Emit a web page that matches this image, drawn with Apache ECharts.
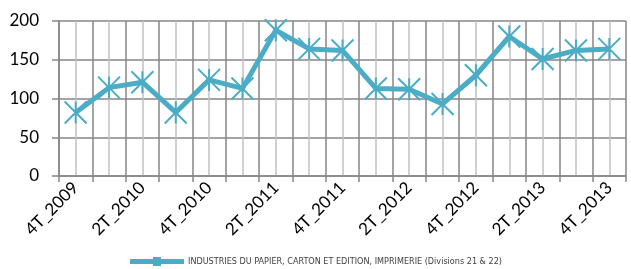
<!DOCTYPE html>
<html>
<head>
<meta charset="utf-8">
<script src="https://cdn.jsdelivr.net/npm/echarts@6/dist/echarts.min.js"></script>
<style>
  html, body { margin: 0; padding: 0; background: #fff; }
  #chart { width: 631px; height: 269px; }
</style>
</head>
<body>
<div id="chart"></div>
<script>
// trimestres
var quarters = ["4T_2009", "1T_2010", "2T_2010", "3T_2010", "4T_2010", "1T_2011", "2T_2011", "3T_2011",
    "4T_2011", "1T_2012", "2T_2012", "3T_2012", "4T_2012", "1T_2013", "2T_2013", "3T_2013", "4T_2013"];
// indice
var values = [82, 114, 121, 82, 124, 113, 188, 164, 162, 113, 112, 93, 130, 180, 151, 162, 164];
var yTicks = [0, 50, 100, 150, 200];
var seriesName = "INDUSTRIES DU PAPIER, CARTON ET EDITION, IMPRIMERIE (Divisions 21 & 22)";

var teal = "#4BACC6";
var dark = "#868686";
var light = "#C0C0C0";
var font = "Lato, 'Open Sans', sans-serif";

var myChart = echarts.init(document.getElementById("chart"));
var option = {
    animation: false,
    grid: { left: 59, right: 5, top: 21, bottom: 93 },
    legend: {
        bottom: -2,
        left: 125,
        itemWidth: 52,
        itemHeight: 7,
        itemGap: 4,
        //图例：细线加小方块
        data: [{ name: seriesName, icon: "path://M0,2L52,2L52,5L0,5Z M23,0L29,0L29,7L23,7Z" }],
        textStyle: { fontFamily: "'Liberation Sans Narrow', 'DejaVu Sans Condensed', sans-serif", fontSize: 9, color: "#404040" }
    },
    xAxis: [{
        type: "category",
        data: quarters,
        boundaryGap: true,
        axisLine: { lineStyle: { color: dark, width: 1.5 } },
        axisTick: { show: true, length: 6, interval: 0, lineStyle: { color: dark, width: 1.5 } },
        splitLine: { show: true, interval: 0, lineStyle: { color: dark, width: 1.5 } },
        axisLabel: {
            interval: 1,
            rotate: 45,
            margin: 9,
            fontFamily: font,
            fontSize: 17,
            color: "#000"
        }
    }, {
        //中间的浅色竖线
        type: "category",
        data: quarters,
        boundaryGap: true,
        position: "bottom",
        axisLine: { show: false },
        axisTick: { show: false },
        axisLabel: { show: false },
        splitLine: { show: true, interval: 0, alignWithLabel: true, lineStyle: { color: light, width: 1.5 } }
    }],
    yAxis: {
        type: "value",
        min: 0,
        max: 200,
        interval: 50,
        axisLine: { show: true, lineStyle: { color: dark, width: 1.5 } },
        axisTick: { show: true, length: 7, lineStyle: { color: dark, width: 1.5 } },
        splitLine: { show: true, lineStyle: { color: dark, width: 1.5 } },
        axisLabel: {
            margin: 20,
            fontFamily: font,
            fontSize: 17,
            color: "#000",
            formatter: function (v) { return yTicks.indexOf(v) >= 0 ? String(v) : ""; }
        }
    },
    series: [{
        name: seriesName,
        type: "line",
        data: values,
        symbol: "path://M0,0L20,20M20,0L0,20M10,0L10,20",
        symbolSize: 22,
        lineStyle: { color: teal, width: 5 },
        itemStyle: { color: teal, borderColor: teal, borderWidth: 2 },
        z: 5
    }]
};
myChart.setOption(option);
</script>
</body>
</html>
